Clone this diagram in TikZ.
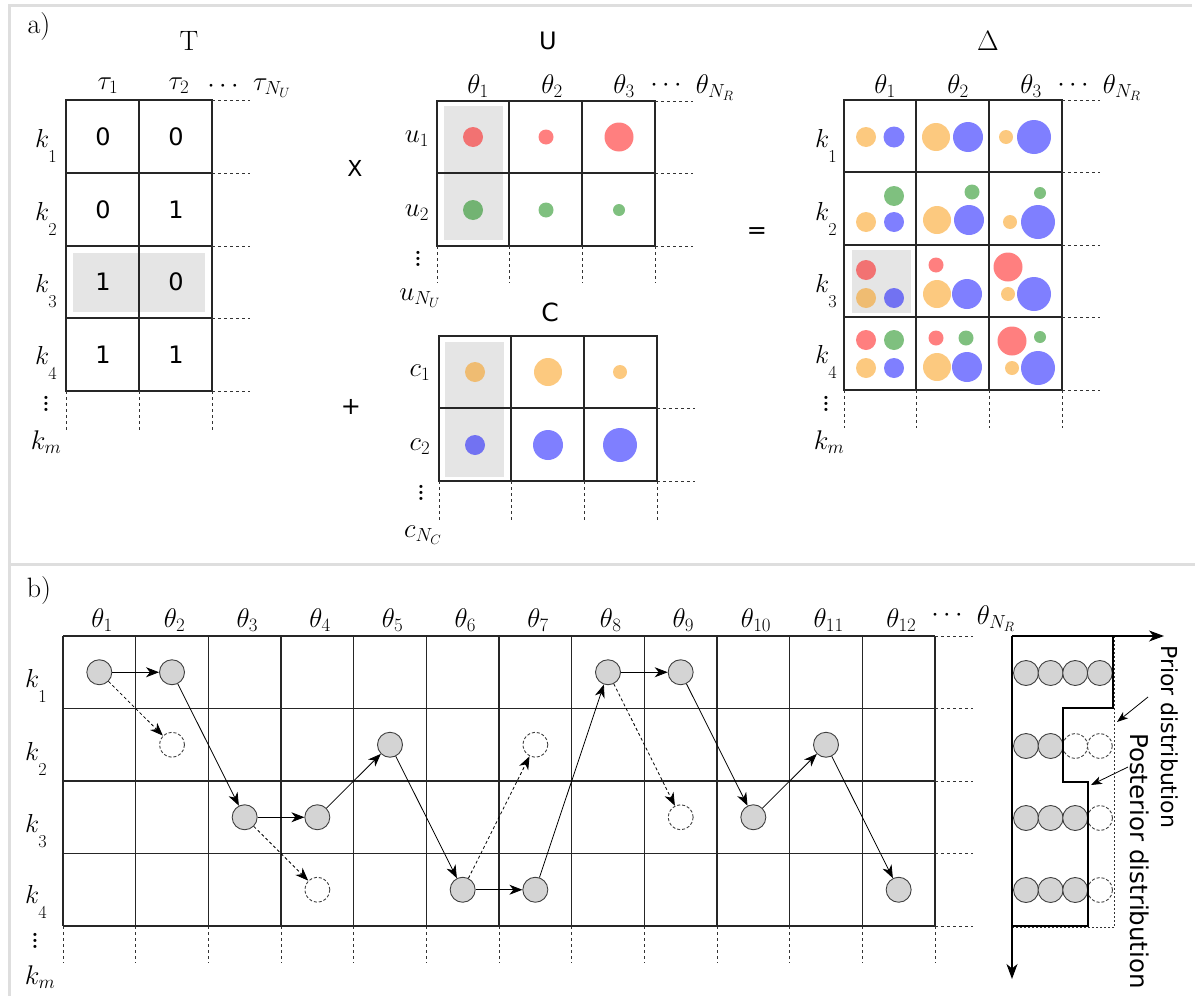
\documentclass[tikz,border=0pt]{standalone}
\usepackage{fix-cm}
\usepackage{fontspec}
\newfontfamily\dejavu{DejaVu Sans}
\usetikzlibrary{arrows.meta}
\definecolor{cred}{RGB}{255,0,0}
\definecolor{cgreen}{RGB}{0,130,0}
\definecolor{corange}{RGB}{250,148,0}
\definecolor{cblue}{RGB}{0,0,255}
\newcommand{\kk}[1]{$k_{\raisebox{-12pt}{$\scriptstyle #1$}}$}
\newcommand{\vd}{\vbox{\baselineskip6pt\lineskiplimit0pt\hbox{\bfseries .}\hbox{\bfseries .}\hbox{\bfseries .}}}
\begin{document}
\begin{tikzpicture}[x=1pt,y=-1pt,
  gridline/.style={line width=1.2pt, black!85},
  ext/.style={line width=0.9pt, dash pattern=on 3pt off 3pt, black!80},
  hl/.style={fill=black!10},
  lbl/.style={font=\fontsize{27}{32}\selectfont, inner sep=0pt},
  klbl/.style={font=\fontsize{26}{31}\selectfont, inner sep=0pt, anchor=base west},
  vdl/.style={font=\fontsize{22}{26}\selectfont, inner sep=0pt},
  big/.style={font=\fontsize{28}{33}\selectfont, inner sep=0pt},
  num/.style={font=\dejavu\fontsize{24}{28}\selectfont, inner sep=0pt},
  side/.style={font=\dejavu\fontsize{22}{26}\selectfont, inner sep=0pt, rotate=-90, anchor=west},
  st/.style={circle, draw=black!75, line width=0.9pt, fill=black!17, minimum size=25pt, inner sep=0pt},
  gh/.style={circle, draw=black!75, line width=0.9pt, dash pattern=on 3pt off 2pt, fill=white, minimum size=25pt, inner sep=0pt},
  arr/.style={-{Stealth[length=13pt,width=10pt,inset=4pt]}, line width=0.8pt},
  darr/.style={arr, dash pattern=on 3pt off 2.5pt},
  aarr/.style={-{Stealth[length=15pt,width=11pt,inset=4.5pt]}, line width=1.1pt},
  sarr/.style={-{Stealth[length=11pt,width=8pt,inset=3pt]}, line width=0.8pt},
  dot/.style={fill opacity=0.5}
]
\useasboundingbox (0,0) rectangle (1195,996);
% panel frames
\draw[line width=3pt, black!13] (9,996) -- (9,5) -- (1192,5);
\draw[line width=3pt, black!13] (9,564) -- (1195,564);
\node[big] (la) at (39,27) {a)};
\node[big] (lb) at (39,591) {b)};

% ================= T table
\fill[hl] (73,253) rectangle (205,312);
\draw[gridline] (66,100) rectangle (212,391);
\foreach \y in {173,246,318} \draw[gridline] (66,\y) -- (212,\y);
\draw[gridline] (139,100) -- (139,391);
\foreach \y in {100,173,246,318,391} \draw[ext] (212,\y) -- (250,\y);
\foreach \x in {66,139,212} \draw[ext] (\x,391) -- (\x,430);
\node[big] (tT) at (189,41) {T};
\node[lbl] (tt1) at (108,86) {$\tau_1$};
\node[lbl] (tt2) at (179,86) {$\tau_2$};
\node[lbl] (tdots) at (223,86) {$\cdots$};
\node[lbl] (ttn) at (272,88) {$\tau_{N_U}$};
\foreach \n/\y/\a/\b in {1/137/0/0, 2/210/0/1, 3/282/1/0, 4/355/1/1}{
  \node[num] (ta\n) at (103,\y) {\a};
  \node[num] (tb\n) at (176,\y) {\b};
}
\foreach \n/\y in {1/147,2/220,3/292,4/364}
  \node[klbl] (tk\n) at (35,\y) {\kk{\n}};
\node[vdl] (tvd) at (46,404) {\vd};
\node[lbl] (tkm) at (46,442) {$k_m$};

% operators
\node[num, font=\dejavu\fontsize{22}{26}\selectfont] (opx) at (355,168) {X};
\node[num] (opp) at (351,407) {+};
\node[num] (ope) at (757,233) {=};

% ================= U table
\fill[hl] (444,106) rectangle (503,240);
\foreach \x/\y/\r in {473/137/10, 546/137/7.5, 619/137/14.5} \fill[cred,dot] (\x,\y) circle[radius=\r*1pt];
\foreach \x/\y/\r in {473/210/10, 546/210/7.5, 619/210/6} \fill[cgreen,dot] (\x,\y) circle[radius=\r*1pt];
\draw[gridline] (437,101) rectangle (655,246);
\draw[gridline] (437,173) -- (655,173);
\foreach \x in {509,582} \draw[gridline] (\x,101) -- (\x,246);
\foreach \y in {101,173,246} \draw[ext] (655,\y) -- (693,\y);
\foreach \x in {437,509,582,655} \draw[ext] (\x,246) -- (\x,283);
\node[num] (uU) at (548,41) {U};
\node[lbl] (uh1) at (478,86) {$\theta_1$};
\node[lbl] (uh2) at (552,86) {$\theta_2$};
\node[lbl] (uh3) at (624,86) {$\theta_3$};
\node[lbl] (uhd) at (666,85) {$\cdots$};
\node[lbl] (uhn) at (715,88) {$\theta_{N_R}$};
\node[lbl] (ur1) at (417,139) {$u_1$};
\node[lbl] (ur2) at (417,213) {$u_2$};
\node[vdl] (urd) at (418,259) {\vd};
\node[lbl] (urn) at (420,298) {$u_{N_U}$};

% ================= C table
\fill[hl] (445,342) rectangle (504,477);
\foreach \x/\y/\r in {475/372/10, 548/372/14, 620/372/7} \fill[corange,dot] (\x,\y) circle[radius=\r*1pt];
\foreach \x/\y/\r in {475/445/10, 548/445/15, 620/445/17} \fill[cblue,dot] (\x,\y) circle[radius=\r*1pt];
\draw[gridline] (439,336) rectangle (657,481);
\draw[gridline] (439,408) -- (657,408);
\foreach \x in {511,584} \draw[gridline] (\x,336) -- (\x,481);
\foreach \y in {408,481} \draw[ext] (657,\y) -- (695,\y);
\foreach \x in {439,511,584,657} \draw[ext] (\x,481) -- (\x,520);
\node[num, font=\dejavu\fontsize{25}{29}\selectfont] (cC) at (550,312) {C};
\node[lbl] (cr1) at (420,373) {$c_1$};
\node[lbl] (cr2) at (420,447) {$c_2$};
\node[vdl] (crd) at (421,493) {\vd};
\node[lbl] (crn) at (423,535) {$c_{N_C}$};

% ================= Delta table
\fill[hl] (852,250) rectangle (911,313);
\foreach \x/\y/\r in {866/137/10,936/137/14,1006/137/7,866/222/10,937/220/14,1010/222/7,866/298/10,937/294/14,1008/294/7,866/368/10,937/367/14,1012/368/7}
  \fill[corange,dot] (\x,\y) circle[radius=\r*1pt];
\foreach \x/\y/\r in {894/137/10.5,968/137/15,1034/137/17,894/222/10,969/220/15,1038/222/17,894/298/10,967/294/15,1034/294/17,894/368/10,967/367/15,1038/368/17}
  \fill[cblue,dot] (\x,\y) circle[radius=\r*1pt];
\foreach \x/\y/\r in {894/196/10,972/192/7.5,1040/193/6,894/340/10,966/338/7.5,1040/337/6}
  \fill[cgreen,dot] (\x,\y) circle[radius=\r*1pt];
\foreach \x/\y/\r in {866/270/10,936/265/7.5,1008/267/14.5,866/340/10,936/338/7.5,1012/341/14.5}
  \fill[cred,dot] (\x,\y) circle[radius=\r*1pt];
\draw[gridline] (844,100) rectangle (1062,390);
\foreach \y in {172,245,317} \draw[gridline] (844,\y) -- (1062,\y);
\foreach \x in {916,989} \draw[gridline] (\x,100) -- (\x,390);
\foreach \y in {100,172,245,317,390} \draw[ext] (1062,\y) -- (1100,\y);
\foreach \x in {844,916,989,1062} \draw[ext] (\x,390) -- (\x,428);
\node[big] (dD) at (988,41) {$\Delta$};
\node[lbl] (dh1) at (885,86) {$\theta_1$};
\node[lbl] (dh2) at (958,86) {$\theta_2$};
\node[lbl] (dh3) at (1031,86) {$\theta_3$};
\node[lbl] (dhd) at (1073,85) {$\cdots$};
\node[lbl] (dhn) at (1122,88) {$\theta_{N_R}$};
\foreach \n/\y in {1/147,2/220,3/292,4/363}
  \node[klbl] (dk\n) at (815,\y) {\kk{\n}};
\node[vdl] (dvd) at (826,404) {\vd};
\node[lbl] (dkm) at (829,442) {$k_m$};

% ================= Panel b grid
\foreach \i in {0,...,12} {
  \draw[gridline] ({63+72.667*\i},636) -- ({63+72.667*\i},926);
  \draw[ext] ({63+72.667*\i},926) -- ({63+72.667*\i},963);
}
\foreach \j in {0,...,4} {
  \draw[gridline] (63,{636+72.5*\j}) -- (935,{636+72.5*\j});
  \draw[ext] (935,{636+72.5*\j}) -- (973,{636+72.5*\j});
}
\foreach \i in {1,...,12}
  \node[lbl] (bh\i) at ({102+72.667*(\i-1)},620) {$\theta_{\i}$};
\node[lbl] (bhd) at (947,615) {$\cdots$};
\node[lbl] (bhn) at (996,619) {$\theta_{N_R}$};
\foreach \n/\y in {1/687,2/760,3/832,4/903}
  \node[klbl] (bk\n) at (25,\y) {\kk{\n}};
\node[vdl] (bvd) at (35,941) {\vd};
\node[lbl] (bkm) at (40,977) {$k_m$};

% circles
\foreach \i/\j in {1/1,2/1,3/3,4/3,5/2,6/4,7/4,8/1,9/1,10/3,11/2,12/4}
  \node[st] (c\i-\j) at ({99.33+72.667*(\i-1)},{672.25+72.5*(\j-1)}) {};
\foreach \i/\j in {2/2,4/4,7/2,9/3}
  \node[gh] (c\i-\j) at ({99.33+72.667*(\i-1)},{672.25+72.5*(\j-1)}) {};
\draw[arr] (c1-1) -- (c2-1);
\draw[arr] (c2-1) -- (c3-3);
\draw[arr] (c3-3) -- (c4-3);
\draw[arr] (c4-3) -- (c5-2);
\draw[arr] (c5-2) -- (c6-4);
\draw[arr] (c6-4) -- (c7-4);
\draw[arr] (c7-4) -- (c8-1);
\draw[arr] (c8-1) -- (c9-1);
\draw[arr] (c9-1) -- (c10-3);
\draw[arr] (c10-3) -- (c11-2);
\draw[arr] (c11-2) -- (c12-4);
\draw[darr] (c1-1) -- (c2-2);
\draw[darr] (c3-3) -- (c4-4);
\draw[darr] (c6-4) -- (c7-2);
\draw[darr] (c8-1) -- (c9-3);

% ================= right histogram
\coordinate (org) at (1012,636);
\coordinate (xe) at (1164,636);
\coordinate (ye) at (1012,979);
\foreach \a in {1,2,3,4} \node[st] (r1-\a) at ({1026+24.6*(\a-1)},673) {};
\foreach \a in {1,2} \node[st] (r2-\a) at ({1026+24.6*(\a-1)},746) {};
\foreach \a in {3,4} \node[gh] (r2-\a) at ({1026+24.6*(\a-1)},746) {};
\foreach \b/\y in {3/818,4/890} {
  \foreach \a in {1,2,3} \node[st] (r\b-\a) at ({1026+24.6*(\a-1)},\y) {};
  \node[gh] (r\b-4) at (1100,\y) {};
}
\draw[ext, line width=0.8pt, dash pattern=on 2pt off 2pt] (1114.5,636) -- (1114.5,927.5) -- (1012,927.5);
\draw[line width=1.4pt] (org) -- (1113,636) -- (1113,708) -- (1063,708) -- (1063,782) -- (1088,782) -- (1088,926) -- (1012,926);
\draw[aarr] (org) -- (xe);
\draw[aarr] (org) -- (ye);
\node[side] (prior) at (1170,645) {Prior distribution};
\node[side, font=\dejavu\fontsize{24.5}{29}\selectfont] (post) at (1140,733) {Posterior distribution};
\coordinate (pa1) at (1148,697);
\coordinate (pa2) at (1117,722);
\coordinate (qa1) at (1128,767);
\coordinate (qa2) at (1091,785);
\draw[sarr] (pa1) -- (pa2);
\draw[sarr] (qa1) -- (qa2);
\end{tikzpicture}
\end{document}
